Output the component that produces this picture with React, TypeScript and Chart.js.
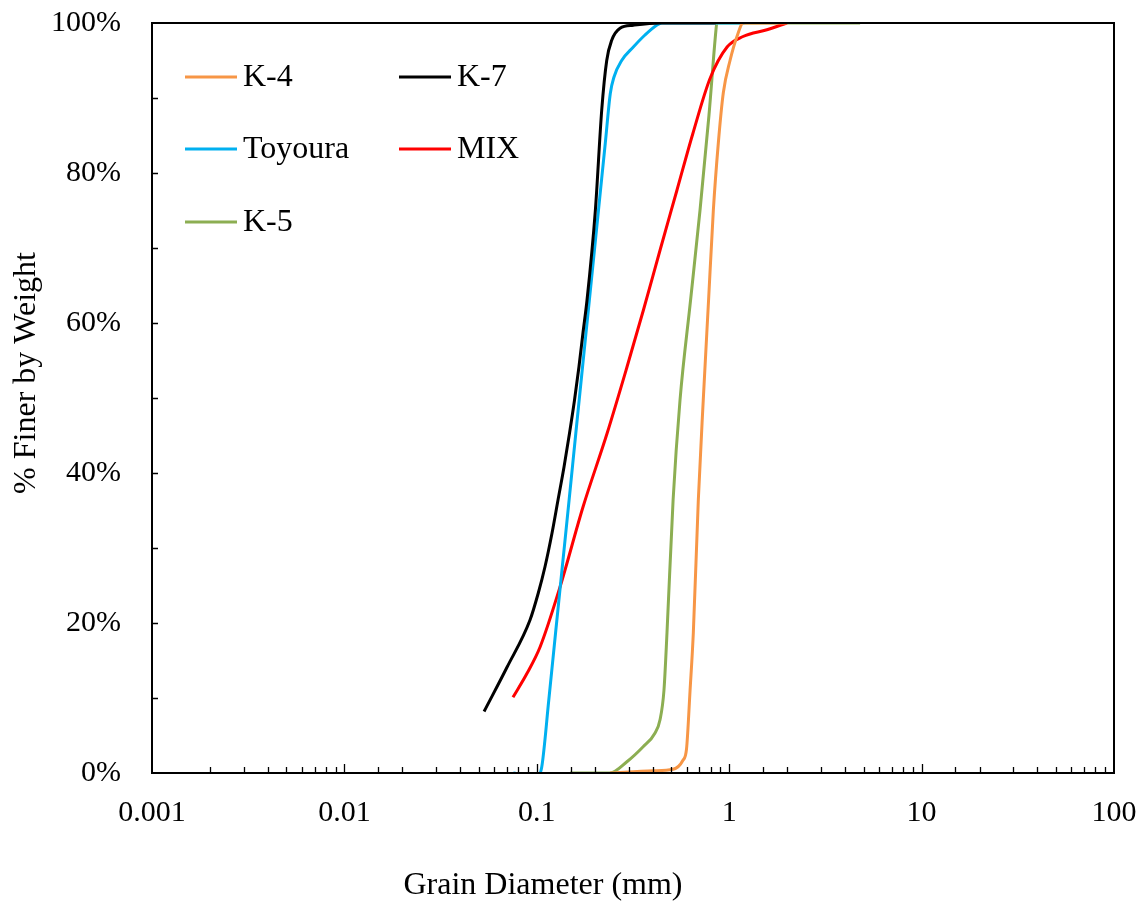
import React, { useEffect, useRef } from "react";
import { Chart, registerables } from "chart.js";

Chart.register(...registerables);

// ---- data (grain diameter in mm, % finer by weight) ----
const seriesNames = ["K-4", "K-7", "Toyoura", "MIX", "K-5"];
const seriesColors = ["#F79646", "#000000", "#00B0F0", "#FF0000", "#8CAE52"];

const k4Diameter = [0.24, 0.402, 0.511, 0.575, 0.600, 0.626, 0.651, 0.691, 0.733, 0.781, 0.827, 0.878, 0.932, 1.01, 1.094, 1.184, 2.0];
const k4Finer = [0, 0.3, 0.5, 1.7, 3.2, 11, 18.7, 36.4, 49.7, 63, 75, 84, 90.7, 95, 98.1, 100, 100];

const k7Diameter = [0.0532, 0.07, 0.0922, 0.1018, 0.1103, 0.12, 0.1289, 0.1385, 0.1479, 0.157, 0.1657, 0.1738, 0.1823, 0.2015, 0.2175, 0.2309, 0.2451, 0.2707, 0.3174, 0.437, 0.85];
const k7Finer = [8.2, 14.1, 20.4, 24.0, 27.5, 32.0, 36.4, 40.8, 45.3, 49.7, 54.2, 58.7, 63, 75, 88.4, 95, 97.7, 99.3, 99.7, 100, 100];

const toyouraDiameter = [0.0755, 0.0886, 0.1018, 0.1061, 0.1154, 0.1252, 0.1357, 0.1472, 0.1595, 0.1728, 0.1875, 0.2091, 0.227, 0.241, 0.2519, 0.2761, 0.3174, 0.365, 0.42, 0.447, 1.2];
const toyouraFiner = [0, -0.3, -0.3, 0.8, 9.7, 18.7, 27.5, 36.4, 45.3, 54.1, 63, 75, 84, 90.6, 92.8, 95, 96.8, 98.4, 99.7, 100, 100];

const mixDiameter = [0.0752, 0.089, 0.104, 0.132, 0.174, 0.232, 0.294, 0.358, 0.437, 0.535, 0.648, 0.795, 0.975, 1.18, 1.57, 1.995];
const mixFiner = [10.1, 13.3, 16.8, 24.8, 35.5, 45.3, 54.1, 61.7, 69.7, 77.7, 85.3, 92.6, 96.8, 98.2, 99.1, 100];

const k5Diameter = [0.149, 0.24, 0.294, 0.357, 0.411, 0.437, 0.458, 0.475, 0.511, 0.555, 0.6295, 0.705, 0.785, 0.853, 0.862, 4.79];
const k5Finer = [0, 0, 1.5, 3.5, 5.3, 7.1, 11, 18.7, 36.4, 49.7, 63, 75, 87.7, 99, 100, 100];

const xTickLabels = ["0.001", "0.01", "0.1", "1", "10", "100"];
const yTickLabels = ["0%", "20%", "40%", "60%", "80%", "100%"];
const xTitle = "Grain Diameter (mm)";
const yTitle = "% Finer by Weight";

const FONT = "'Liberation Serif', 'Times New Roman', serif";

const pts = (d: number[], p: number[]) => d.map((x, i) => ({ x, y: p[i] }));

const decoPlugin = {
  id: "deco",
  afterDatasetsDraw(chart: any) {
    const { ctx, chartArea: a, scales } = chart;
    const xs = scales.x;
    const ys = scales.y;
    ctx.save();
    ctx.strokeStyle = "#000";
    ctx.lineWidth = 2;
    ctx.strokeRect(a.left, a.top, a.right - a.left, a.bottom - a.top);
    ctx.lineWidth = 1.3;
    ctx.beginPath();
    for (const t of xs.ticks) {
      const v = t.value;
      const px = xs.getPixelForValue(v);
      if (px <= a.left + 1 || px >= a.right - 1) continue;
      const lg = Math.log10(v);
      const major = Math.abs(lg - Math.round(lg)) < 1e-6;
      const len = major ? 9 : 6;
      ctx.moveTo(Math.round(px) + 0.5, a.bottom);
      ctx.lineTo(Math.round(px) + 0.5, a.bottom - len);
    }
    for (const t of ys.ticks) {
      const py = ys.getPixelForValue(t.value);
      if (py <= a.top + 1 || py >= a.bottom - 1) continue;
      ctx.moveTo(a.left, Math.round(py) + 0.5);
      ctx.lineTo(a.left + 6, Math.round(py) + 0.5);
    }
    ctx.stroke();
    ctx.restore();
  },
  afterDraw(chart: any) {
    const { ctx } = chart;
    ctx.save();
    ctx.fillStyle = "#000";
    ctx.font = `32px ${FONT}`;
    // axis titles
    ctx.textAlign = "center";
    ctx.textBaseline = "alphabetic";
    ctx.fillText(xTitle, 543, 894);
    ctx.translate(35, 373);
    ctx.rotate(-Math.PI / 2);
    ctx.fillText(yTitle, 0, 0);
    ctx.restore();
    // legend (two columns, row-major)
    ctx.save();
    ctx.font = `32px ${FONT}`;
    ctx.textAlign = "left";
    ctx.textBaseline = "middle";
    const colX = [185, 399];
    const rowY = [77, 149, 222];
    seriesNames.forEach((name, i) => {
      const cx = colX[i % 2];
      const cy = rowY[Math.floor(i / 2)];
      ctx.strokeStyle = seriesColors[i];
      ctx.lineWidth = 3;
      ctx.beginPath();
      ctx.moveTo(cx, cy);
      ctx.lineTo(cx + 52, cy);
      ctx.stroke();
      ctx.fillStyle = "#000";
      ctx.fillText(name, cx + 58, cy + 1);
    });
    ctx.restore();
  },
};

export default function App() {
  const ref = useRef<HTMLCanvasElement | null>(null);
  useEffect(() => {
    document.body.style.margin = "0";
    const canvas = ref.current;
    if (!canvas) return;
    const diam = [k4Diameter, k7Diameter, toyouraDiameter, mixDiameter, k5Diameter];
    const finer = [k4Finer, k7Finer, toyouraFiner, mixFiner, k5Finer];
    const chart = new Chart(canvas, {
      type: "line",
      data: {
        datasets: seriesNames.map((name, i) => ({
          label: name,
          data: pts(diam[i], finer[i]),
          borderColor: seriesColors[i],
          backgroundColor: seriesColors[i],
          borderWidth: 3,
          pointRadius: 0,
          cubicInterpolationMode: "monotone" as const,
          fill: false,
        })),
      },
      options: {
        responsive: false,
        animation: false,
        devicePixelRatio: 1,
        layout: { padding: { top: 23, right: 30, left: 0, bottom: 0 } },
        plugins: { legend: { display: false }, tooltip: { enabled: false } },
        scales: {
          x: {
            type: "logarithmic",
            min: 0.001,
            max: 100,
            grid: { display: false, drawTicks: false },
            border: { display: false },
            ticks: {
              autoSkip: false,
              maxRotation: 0,
              minRotation: 0,
              padding: 22,
              color: "#000",
              font: { family: FONT, size: 30 },
              callback: (v: any) => {
                const val = Number(v);
                const lg = Math.log10(val);
                const r = Math.round(lg);
                if (Math.abs(lg - r) < 1e-6 && r >= -3 && r <= 2) return xTickLabels[r + 3];
                return "";
              },
            },
            afterFit: (s: any) => {
              s.height = 129;
              s.paddingLeft = 0;
              s.paddingRight = 0;
              s.paddingTop = 0;
              s.paddingBottom = 0;
            },
          },
          y: {
            type: "linear",
            min: 0,
            max: 100,
            grid: { display: false, drawTicks: false },
            border: { display: false },
            ticks: {
              stepSize: 10,
              padding: 31,
              color: "#000",
              font: { family: FONT, size: 30 },
              callback: (v: any) => {
                const val = Math.round(Number(v));
                if (val % 20 === 0) return yTickLabels[val / 20];
                return "";
              },
            },
            afterFit: (s: any) => {
              s.width = 152;
              s.paddingLeft = 0;
              s.paddingRight = 0;
              s.paddingTop = 0;
              s.paddingBottom = 0;
            },
          },
        },
      },
      plugins: [decoPlugin],
    });
    return () => chart.destroy();
  }, []);
  return <canvas ref={ref} width={1144} height={902} style={{ display: "block" }} />;
}
